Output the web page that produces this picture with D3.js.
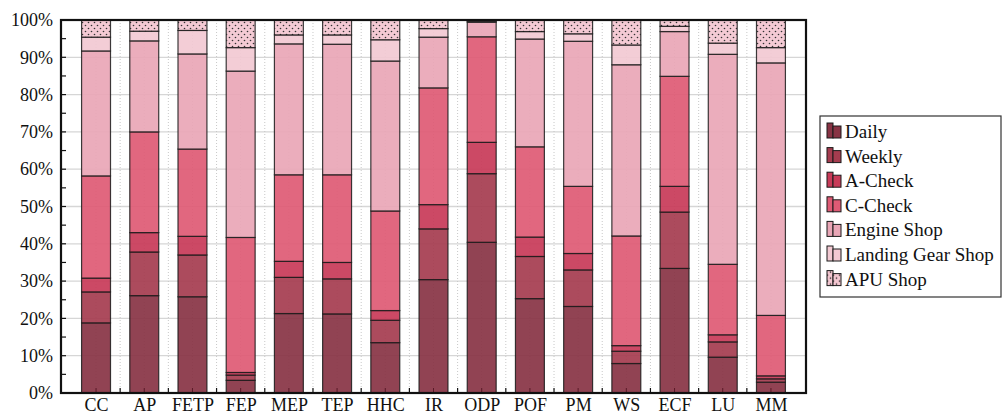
<!DOCTYPE html>
<html>
<head>
<meta charset="utf-8">
<script src="https://cdn.jsdelivr.net/npm/d3@7"></script>
<style>
  body { margin: 0; background: #fff; }
  svg { font-family: "Liberation Serif", "DejaVu Serif", serif; }
</style>
</head>
<body>
<svg></svg>
<script>
// Define variables
const width = 1003;
const height = 414;
const margin = {top: 20, right: 197, bottom: 21, left: 61};

const categories = ['CC', 'AP', 'FETP', 'FEP', 'MEP', 'TEP', 'HHC', 'IR', 'ODP', 'POF', 'PM', 'WS', 'ECF', 'LU', 'MM'];
const seriesNames = ['Daily', 'Weekly', 'A-Check', 'C-Check', 'Engine Shop', 'Landing Gear Shop', 'APU Shop'];
const colors = ['#883344', '#a53c4f', '#c83a58', '#de5a74', '#e9a6b6', '#f2c9d2', 'url(#dots)'];

// share of each maintenance type per category (%)
const daily      = [18.8, 26.1, 25.8, 3.4, 21.3, 21.2, 13.5, 30.4, 40.4, 25.3, 23.2, 7.9, 33.4, 9.6, 2.9];
const weekly     = [8.3, 11.7, 11.2, 1.4, 9.7, 9.4, 6.0, 13.6, 18.4, 11.3, 9.8, 3.3, 15.1, 4.1, 0.9];
const aCheck     = [3.7, 5.2, 5.0, 0.7, 4.3, 4.4, 2.6, 6.5, 8.4, 5.2, 4.4, 1.5, 6.9, 1.9, 0.8];
const cCheck     = [27.4, 27.0, 23.4, 36.2, 23.2, 23.5, 26.7, 31.3, 28.3, 24.2, 18.0, 29.4, 29.5, 18.9, 16.2];
const engineShop = [33.5, 24.4, 25.5, 44.6, 35.1, 35.0, 40.2, 13.6, 3.9, 28.9, 38.9, 45.9, 12.0, 56.3, 67.7];
const gearShop   = [3.7, 2.6, 6.3, 6.3, 2.4, 2.5, 5.7, 2.3, 0.3, 2.0, 2.0, 5.3, 1.4, 3.0, 4.1];
const apuShop    = [4.6, 3.0, 2.8, 7.4, 4.0, 4.0, 5.3, 2.3, 0.3, 3.1, 3.7, 6.7, 1.7, 6.2, 7.4];

const yTicks = [0, 10, 20, 30, 40, 50, 60, 70, 80, 90, 100];

const values = [daily, weekly, aCheck, cCheck, engineShop, gearShop, apuShop];
const dataset = categories.map((c, i) => {
    let row = {cat: c};
    seriesNames.forEach((s, j) => row[s] = values[j][i]);
    return row;
});

const svg = d3.select('svg')
                .attr('width', width)
                .attr('height', height);

// dotted pattern for APU Shop
const defs = svg.append('defs');
const pat = defs.append('pattern')
    .attr('id', 'dots')
    .attr('patternUnits', 'userSpaceOnUse')
    .attr('width', 6).attr('height', 6);
pat.append('rect').attr('width', 6).attr('height', 6).attr('fill', '#f3c6d0');
pat.append('circle').attr('cx', 1.5).attr('cy', 1.5).attr('r', 0.8).attr('fill', '#222');
pat.append('circle').attr('cx', 4.5).attr('cy', 4.5).attr('r', 0.8).attr('fill', '#222');

const x0 = margin.left, x1 = width - margin.right;
const y0 = height - margin.bottom, y1 = margin.top;

const xScale = d3.scalePoint()
    .domain(categories)
    .range([x0, x1])
    .padding(0.727);
const step = xScale.step();
const barW = step * 0.6;

const yScale = d3.scaleLinear()
    .domain([0, 100])
    .range([y0, y1]);

// grid
const grid = svg.append('g');
grid.selectAll('.hgrid')
    .data(yTicks.slice(1, -1))
    .enter().append('line')
    .attr('x1', x0).attr('x2', x1)
    .attr('y1', d => yScale(d)).attr('y2', d => yScale(d))
    .attr('stroke', '#d6d6d6').attr('stroke-width', 1.3);

grid.selectAll('.vgrid')
    .data(categories.slice(0, -1))
    .enter().append('line')
    .attr('x1', d => xScale(d) + step / 2).attr('x2', d => xScale(d) + step / 2)
    .attr('y1', y1).attr('y2', y0)
    .attr('stroke', '#c8c8c8').attr('stroke-width', 1)
    .attr('stroke-dasharray', '1,2');

grid.selectAll('.cgrid')
    .data(categories)
    .enter().append('line')
    .attr('x1', d => xScale(d)).attr('x2', d => xScale(d))
    .attr('y1', y1).attr('y2', y0)
    .attr('stroke', '#c8c8c8').attr('stroke-width', 1)
    .attr('stroke-dasharray', '1,2');

// stacked bars
const stacked = d3.stack().keys(seriesNames)(dataset);

svg.append('g')
    .selectAll('g')
    .data(stacked)
    .enter().append('g')
    .attr('fill', (d, i) => colors[i])
    .selectAll('rect')
    .data(d => d)
    .enter().append('rect')
    .attr('x', d => xScale(d.data.cat) - barW / 2)
    .attr('y', d => yScale(d[1]))
    .attr('width', barW)
    .attr('height', d => yScale(d[0]) - yScale(d[1]))
    .attr('fill-opacity', 0.92)
    .attr('stroke', '#1a1a1a')
    .attr('stroke-opacity', 0.85)
    .attr('stroke-width', 1.2);

// Build Axes
const yAxis = d3.axisLeft(yScale)
    .tickValues(yTicks)
    .tickSize(0)
    .tickPadding(8)
    .tickFormat(d => d + '%');
const yg = svg.append('g')
    .attr('transform', 'translate(' + x0 + ',0)')
    .call(yAxis);
yg.select('.domain').remove();
yg.selectAll('text')
    .attr('font-size', 18)
    .attr('font-family', '"Liberation Serif", serif')
    .attr('fill', '#111');

// inward ticks every 5%
svg.append('g').selectAll('line')
    .data(d3.range(5, 100, 5))
    .enter().append('line')
    .attr('x1', x0).attr('x2', x0 + 5)
    .attr('y1', d => yScale(d)).attr('y2', d => yScale(d))
    .attr('stroke', '#111').attr('stroke-width', 1.2);

const xAxis = d3.axisBottom(xScale)
    .tickSize(0)
    .tickPadding(5);
const xg = svg.append('g')
    .attr('transform', 'translate(0,' + y0 + ')')
    .call(xAxis);
xg.select('.domain').remove();
xg.selectAll('text')
    .attr('font-size', 18)
    .attr('font-family', '"Liberation Serif", serif')
    .attr('fill', '#111');

// small ticks on bottom axis
svg.append('g').selectAll('line')
    .data(categories.slice(0, -1))
    .enter().append('line')
    .attr('x1', d => xScale(d) + step / 2).attr('x2', d => xScale(d) + step / 2)
    .attr('y1', y0).attr('y2', y0 - 5)
    .attr('stroke', '#111').attr('stroke-width', 1.2);
svg.append('g').selectAll('line')
    .data(categories)
    .enter().append('line')
    .attr('x1', d => xScale(d)).attr('x2', d => xScale(d))
    .attr('y1', y0).attr('y2', y0 - 5)
    .attr('stroke', '#5a1a28').attr('stroke-width', 1);

// frame
svg.append('rect')
    .attr('x', x0).attr('y', y1)
    .attr('width', x1 - x0).attr('height', y0 - y1)
    .attr('fill', 'none')
    .attr('stroke', '#111')
    .attr('stroke-width', 2.2);

// legend
const legend = svg.append('g').attr('transform', 'translate(820,116)');
legend.append('rect')
    .attr('width', 181).attr('height', 181)
    .attr('fill', '#fff')
    .attr('stroke', '#333').attr('stroke-width', 1.2);

const items = legend.selectAll('.item')
    .data(seriesNames)
    .enter().append('g')
    .attr('transform', (d, i) => 'translate(0,' + (22 + i * 24.6) + ')');

items.append('rect')
    .attr('x', 7).attr('y', -15).attr('width', 6).attr('height', 15)
    .attr('fill', (d, i) => colors[i])
    .attr('stroke', '#1a1a1a').attr('stroke-width', 1);
items.append('rect')
    .attr('x', 13).attr('y', -12).attr('width', 8).attr('height', 12)
    .attr('fill', (d, i) => colors[i])
    .attr('stroke', '#1a1a1a').attr('stroke-width', 1);
items.append('text')
    .attr('x', 25).attr('y', 0)
    .attr('font-size', 19)
    .attr('fill', '#111')
    .text(d => d);
</script>
</body>
</html>
